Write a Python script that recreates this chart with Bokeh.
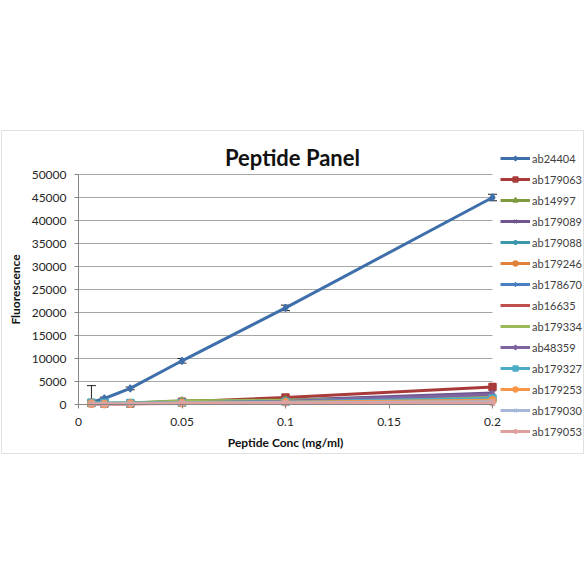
from bokeh.plotting import figure
from bokeh.models import (FixedTicker, Legend, LegendItem, Label, Whisker,
                          ColumnDataSource, BoxAnnotation, Range1d, TeeHead)
from bokeh.embed import file_html
from bokeh.resources import INLINE

conc = [0.00625, 0.0125, 0.025, 0.05, 0.1, 0.2]

names = ["ab24404", "ab179063", "ab14997", "ab179089", "ab179088", "ab179246",
         "ab178670", "ab16635", "ab179334", "ab48359", "ab179327", "ab179253",
         "ab179030", "ab179053"]

ab24404 = [500, 1300, 3500, 9500, 21000, 45000]
ab24404_err = [3600, 300, 300, 500, 600, 700]
ab179063 = [300, 200, 200, 600, 1500, 3800]
ab14997 = [300, 200, 300, 800, 1000, 2000]
ab179089 = [200, 150, 200, 500, 900, 2500]
ab179088 = [300, 200, 300, 600, 800, 1800]
ab179246 = [200, 100, 200, 400, 600, 1200]
ab178670 = [200, 100, 200, 400, 700, 1500]
ab16635 = [200, 100, 150, 300, 500, 1000]
ab179334 = [300, 200, 300, 700, 900, 1600]
ab48359 = [200, 100, 200, 400, 700, 2200]
ab179327 = [400, 300, 300, 400, 600, 1300]
ab179253 = [200, 100, 200, 300, 500, 900]
ab179030 = [200, 100, 200, 300, 400, 600]
ab179053 = [100, 50, 100, 200, 300, 300]

series = [ab24404, ab179063, ab14997, ab179089, ab179088, ab179246, ab178670,
          ab16635, ab179334, ab48359, ab179327, ab179253, ab179030, ab179053]

colors = ["#3F6FAA", "#A83A3A", "#7F9A3E", "#6E558F", "#3C97AE", "#E0823A",
          "#4A7EC0", "#C0504D", "#9BBB59", "#8064A2", "#4BACC6", "#F79646",
          "#A5B8DA", "#E0A09E"]
markers = ["diamond", "square", "triangle", "x", "asterisk", "circle",
           "cross", "dash", "dash", "diamond", "square", "circle", "x", "asterisk"]

x_ticks = [0, 0.05, 0.1, 0.15, 0.2]
x_tick_labels = ["0", "0.05", "0.1", "0.15", "0.2"]
y_ticks = [0, 5000, 10000, 15000, 20000, 25000, 30000, 35000, 40000, 45000, 50000]

FONT = "Lato"

# layout (pixels on the canvas)
W, H = 584, 470
PX_L, PX_R, PX_T, PX_B = 78, 492, 174, 404
X0, X1 = x_ticks[0], x_ticks[-1]
Y0, Y1 = y_ticks[0], y_ticks[-1]
sx = (X1 - X0) / (PX_R - PX_L)
sy = (Y1 - Y0) / (PX_B - PX_T)
x_range = Range1d(X0 - PX_L * sx, X1 + (W - PX_R) * sx)
y_range = Range1d(Y0 - (H - PX_B) * sy, Y1 + PX_T * sy)

p = figure(width=W, height=H, output_backend="svg", toolbar_location=None,
           x_range=x_range, y_range=y_range, min_border=0)
p.outline_line_color = None
p.background_fill_color = "white"
p.border_fill_color = "white"

# chart border
border = BoxAnnotation(left=1, right=583, top=130, bottom=453,
                       left_units="canvas", right_units="canvas",
                       top_units="canvas", bottom_units="canvas",
                       fill_alpha=0, line_color="#9a9a9a", line_width=1,
                       level="underlay")
p.add_layout(border)

p.xgrid.grid_line_color = None
p.ygrid.grid_line_color = "#a6a6a6"
p.ygrid.grid_line_width = 1
p.ygrid.bounds = (Y0, Y1)
p.ygrid.cross_bounds = (X0, X1)
p.ygrid.ticker = FixedTicker(ticks=y_ticks)

p.xaxis.ticker = FixedTicker(ticks=x_ticks)
p.xaxis.major_label_overrides = {t: l for t, l in zip(x_ticks, x_tick_labels)}
p.yaxis.ticker = FixedTicker(ticks=y_ticks)
p.yaxis.major_label_overrides = {t: str(t) for t in y_ticks}
p.xaxis.fixed_location = Y0
p.yaxis.fixed_location = X0
p.xaxis.bounds = (X0, X1)
p.yaxis.bounds = (Y0, Y1)

for ax in (p.xaxis[0], p.yaxis[0]):
    ax.axis_line_color = "#868686"
    ax.major_tick_line_color = "#868686"
    ax.minor_tick_line_color = None
    ax.major_tick_in = 0
    ax.major_tick_out = 4
    ax.major_label_text_font = FONT
    ax.major_label_text_font_size = "12px"
    ax.major_label_text_color = "#262626"
    ax.axis_label_text_font = FONT
    ax.axis_label_text_font_size = "12px"
    ax.axis_label_text_font_style = "bold"
    ax.axis_label_text_color = "#111111"

p.xaxis.axis_label = "Peptide Conc (mg/ml)"
p.yaxis.axis_label = "Fluorescence"
p.xaxis.major_label_standoff = 9
p.xaxis.axis_label_standoff = 6
p.yaxis.major_label_standoff = 8
p.yaxis.axis_label_standoff = 6

# error bars on first series
src_err = ColumnDataSource(dict(x=conc,
                                lo=[max(v - e, 0) for v, e in zip(ab24404, ab24404_err)],
                                hi=[v + e for v, e in zip(ab24404, ab24404_err)]))
wh = Whisker(base="x", lower="lo", upper="hi", source=src_err,
             line_color="#222222", line_width=1,
             upper_head=TeeHead(size=9, line_color="#222222"),
             lower_head=TeeHead(size=9, line_color="#222222"))
p.add_layout(wh)

renderers = {}
for i in range(len(series)):
    ys = series[i]
    ln = p.line(conc, ys, line_color=colors[i], line_width=3)
    sc = p.scatter(conc, ys, marker=markers[i], size=7, fill_color=colors[i],
                   line_color=colors[i], line_width=1.5)
    renderers[i] = [ln, sc]

items = [LegendItem(label=names[i], renderers=renderers[i]) for i in range(len(series))]

legend = Legend(items=items, location=(500, H - 441), glyph_width=30,
                glyph_height=12, label_height=20, spacing=1, padding=0,
                margin=0, label_standoff=2, border_line_color=None,
                background_fill_alpha=0, label_text_font=FONT,
                label_text_font_size="11px", label_text_color="#404040")
p.add_layout(legend)

title = Label(x=X0 + (292 - PX_L) * sx, y=Y0 + (PX_B - 157) * sy,
              text="Peptide Panel", text_font=FONT,
              text_font_size="22px", text_font_style="bold", text_align="center",
              text_baseline="middle", text_color="#111111")
p.add_layout(title)

open("out.html", "w").write(file_html(p, INLINE))
